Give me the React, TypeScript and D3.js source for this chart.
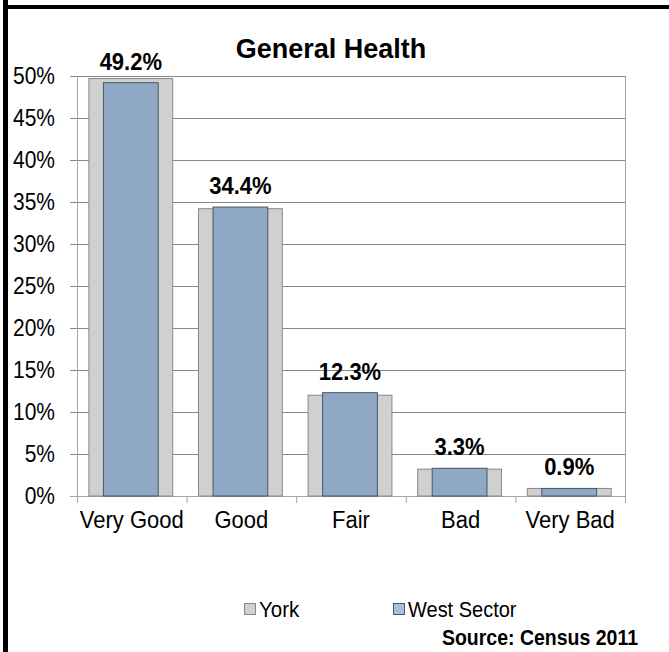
import React from "react";
import * as d3 from "d3";

const categories = ["Very Good", "Good", "Fair", "Bad", "Very Bad"];
const yorkValues = [49.7, 34.2, 12.0, 3.2, 0.9];
const westValues = [49.2, 34.4, 12.3, 3.3, 0.9];
const westLabels = ["49.2%", "34.4%", "12.3%", "3.3%", "0.9%"];
const yTicks = [0, 5, 10, 15, 20, 25, 30, 35, 40, 45, 50];
const seriesNames = ["York", "West Sector"];
const title = "General Health";
const source = "Source: Census 2011";

const W = 669;
const H = 652;
const FONT = "'Liberation Sans', Arial, Helvetica, sans-serif";

function T(props: {
  x: number;
  y: number;
  size: number;
  bold?: boolean;
  anchor?: "start" | "middle" | "end";
  sy?: number;
  dy?: string;
  children: React.ReactNode;
}) {
  const sy = props.sy ?? 1.1;
  return (
    <text
      transform={`translate(${props.x},${props.y}) scale(1,${sy})`}
      dy={props.dy}
      textAnchor={props.anchor ?? "start"}
      fontFamily={FONT}
      fontWeight={props.bold ? "bold" : "normal"}
      fontSize={props.size}
      fill="#000"
    >
      {props.children}
    </text>
  );
}

export default function App() {
  const plotLeft = 77;
  const plotRight = 625;
  const plotTop = 76;
  const plotBottom = 496;

  const x = d3.scaleBand<string>().domain(categories).range([plotLeft, plotRight]).padding(0);
  const y = d3.scaleLinear().domain([0, 50]).range([plotBottom, plotTop]);
  const bw = x.bandwidth();
  const yorkW = bw * 0.765;
  const westW = bw * 0.5;

  const gridColor = "#868686";
  const axisColor = "#a6a6a6";
  const yorkFill = "#d0d0d0";
  const yorkStroke = "#888888";
  const westFill = "#8ea8c6";
  const westStroke = "#475767";

  return (
    <div style={{ position: "absolute", left: 0, top: 0, width: W, height: H }}>
      <svg width={W} height={H} style={{ display: "block", background: "#fff" }}>
        <rect x={0} y={0} width={W} height={H} fill="#fff" />
        {/* frame */}
        <rect x={3} y={0} width={5} height={H} fill="#000" />
        <rect x={3} y={5} width={W - 3} height={4} fill="#000" />

        <T x={331} y={58} size={27} bold anchor="middle" sy={1.0}>
          {title}
        </T>

        {/* gridlines + y ticks */}
        {yTicks.map((t) => (
          <g key={t}>
            <line x1={plotLeft - 7} x2={plotRight} y1={y(t) + 0.5} y2={y(t) + 0.5} stroke={t === 0 ? axisColor : gridColor} strokeWidth={1} />
            <T x={55} y={y(t) + 8} size={21} anchor="end">
              {t + "%"}
            </T>
          </g>
        ))}
        {/* y axis and right border */}
        <line x1={plotLeft + 0.5} x2={plotLeft + 0.5} y1={plotTop} y2={plotBottom} stroke={axisColor} />
        <line x1={plotRight + 0.5} x2={plotRight + 0.5} y1={plotTop} y2={plotBottom + 7} stroke={axisColor} />
        {/* x ticks */}
        {categories.map((c) => (
          <line key={c} x1={(x(c) as number) + 0.5} x2={(x(c) as number) + 0.5} y1={plotBottom} y2={plotBottom + 7} stroke={axisColor} />
        ))}

        {/* bars */}
        {categories.map((c, i) => {
          const cx = (x(c) as number) + bw / 2 - 1;
          return (
            <g key={c}>
              <rect x={cx - yorkW / 2} y={y(yorkValues[i])} width={yorkW} height={plotBottom - y(yorkValues[i])} fill={yorkFill} stroke={yorkStroke} strokeWidth={1} />
              <rect x={cx - westW / 2} y={y(westValues[i])} width={westW} height={plotBottom - y(westValues[i])} fill={westFill} stroke={westStroke} strokeWidth={1} />
              <T x={cx} y={y(westValues[i]) - 13} size={22} bold anchor="middle">
                {westLabels[i]}
              </T>
              <T x={cx + 1} y={528} size={22} anchor="middle">
                {c}
              </T>
            </g>
          );
        })}

        {/* legend */}
        <rect x={244.5} y={603.5} width={11} height={11} fill={yorkFill} stroke={yorkStroke} />
        <T x={259} y={617} size={20.5}>{seriesNames[0]}</T>
        <rect x={393.5} y={603.5} width={11} height={11} fill="#a9c0dd" stroke={westStroke} />
        <T x={408} y={617} size={20}>{seriesNames[1]}</T>

        <T x={638} y={645} size={19.5} bold anchor="end">
          {source}
        </T>
      </svg>
    </div>
  );
}
